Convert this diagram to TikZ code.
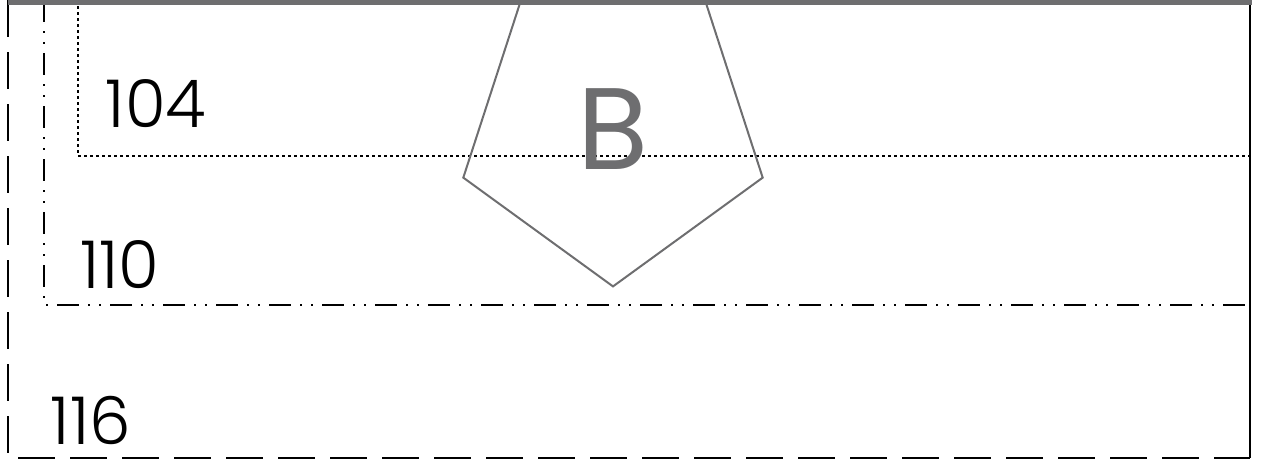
\documentclass[tikz,border=0pt]{standalone}
\usepackage{fontspec}
\setmainfont{Poppins}[UprightFont={* Light}]
\newfontfamily\letterfont{Poppins}
\usetikzlibrary{shapes.geometric}

\definecolor{linegray}{HTML}{6E6E70}
\tikzset{
  outerline/.style  = {line width=1.4pt, dash pattern=on 18.5pt off 7.5pt},
  middleline/.style = {line width=1.3pt, dash pattern=on 11pt off 4.5pt on 1pt off 4.5pt on 1pt off 4.5pt},
  innerline/.style  = {line width=1.3pt, dash pattern=on 1.5pt off 1.5pt},
}

\begin{document}
\begin{tikzpicture}[x=0.5pt, y=-0.5pt]
    \useasboundingbox (0,0) rectangle (1262,462);
    % boundaries
    \draw[outerline]  (8,0) -- (8,458) -- (1250,458);
    \draw[line width=1.4pt] (1250,458) -- (1250,3);
    \draw[middleline] (44,0) -- (44,305) -- (1250,305);
    \draw[innerline]  (78,0) -- (78,156) -- (1250,156);
    \node[draw=linegray, line width=1pt, regular polygon, regular polygon sides=5,
          shape border rotate=180, minimum size=157.4pt, inner sep=0pt, outer sep=0pt,
          text=linegray, font=\letterfont\fontsize{58}{58}\selectfont] (block) at (613,129) {B};
    \draw[linegray, line width=2.5pt] (8,2.5) -- (1252,2.5);
    \begin{scope}[every node/.style = {inner sep=0pt, font=\fontsize{33}{33}\selectfont}]
      \node (zone104) at (156,104) {104};
      \node (zone110) at (120,265) {110};
      \node (zone116) at (91,420)  {116};
    \end{scope}
  \end{tikzpicture}
\end{document}
